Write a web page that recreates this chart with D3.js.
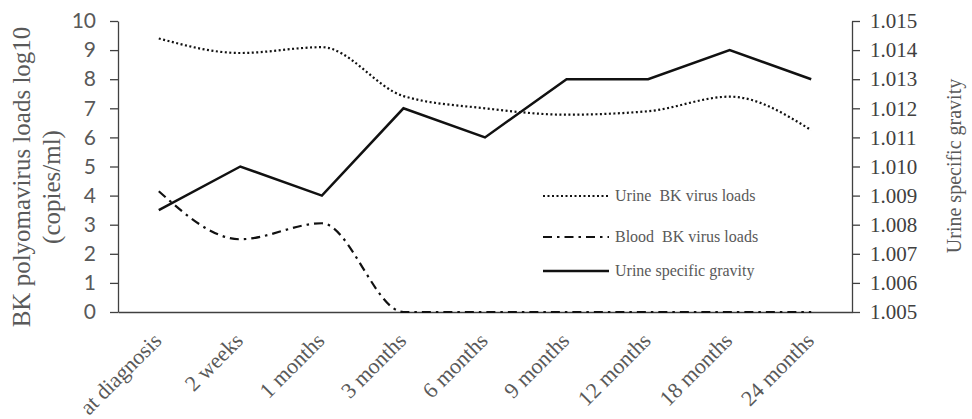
<!DOCTYPE html>
<html>
<head>
<meta charset="utf-8">
<script src="https://cdn.jsdelivr.net/npm/d3@7"></script>
<style>
  body { margin: 0; background: #fff; }
  svg { display: block; }
</style>
</head>
<body>
<div id="chart"></div>
<script>
// Data
const timepoints = ["at diagnosis", "2 weeks", "1 months", "3 months", "6 months",
                    "9 months", "12 months", "18 months", "24 months"];
const urineLoads = [9.4, 8.9, 9.1, 7.42, 7.0, 6.78, 6.9, 7.4, 6.25];
const bloodLoads = [4.15, 2.5, 3.05, 0, 0, 0, 0, 0, 0];
const gravity    = [1.0085, 1.010, 1.009, 1.012, 1.011, 1.013, 1.013, 1.014, 1.013];
const leftTicks  = d3.range(0, 11);
const rightTicks = [1.005, 1.006, 1.007, 1.008, 1.009, 1.010, 1.011, 1.012, 1.013, 1.014, 1.015];

const W = 972, H = 419;
const margin = { top: 21, right: 120, bottom: 107, left: 118 };

const svg = d3.select("#chart").append("svg")
  .attr("width", W)
  .attr("height", H);

const textGray = "#595959";
const serif = "'Liberation Serif', 'DejaVu Serif', serif";

// Scales
const x = d3.scaleBand()
  .domain(timepoints)
  .range([margin.left, W - margin.right])
  .padding(0);

const yL = d3.scaleLinear()
  .domain([0, 10])
  .range([H - margin.bottom, margin.top]);

const yR = d3.scaleLinear()
  .domain([1.005, 1.015])
  .range([H - margin.bottom, margin.top]);

const cx = d => x(d) + x.bandwidth() / 2;

// Left axis
const gL = svg.append("g")
  .attr("transform", `translate(${margin.left},0)`)
  .call(d3.axisLeft(yL).tickValues(leftTicks).tickSize(8).tickSizeOuter(0).tickPadding(14));
gL.select(".domain").attr("stroke", "#404040").attr("stroke-width", 1.3);
gL.selectAll(".tick line").attr("stroke", "#404040").attr("stroke-width", 1.3);
gL.selectAll(".tick text")
  .attr("fill", textGray)
  .style("font-family", "Lato, 'Open Sans', sans-serif")
  .style("font-size", "21px");

// Right axis
const gR = svg.append("g")
  .attr("transform", `translate(${W - margin.right},0)`)
  .call(d3.axisRight(yR).tickValues(rightTicks).tickSize(8).tickSizeOuter(0).tickPadding(10)
    .tickFormat(d3.format(".3f")));
gR.select(".domain").attr("stroke", "#404040").attr("stroke-width", 1.3);
gR.selectAll(".tick line").attr("stroke", "#404040").attr("stroke-width", 1.3);
gR.selectAll(".tick text")
  .attr("fill", "#404040")
  .style("font-family", serif)
  .style("font-size", "21px");

// Bottom axis
const gB = svg.append("g")
  .attr("transform", `translate(0,${H - margin.bottom})`)
  .call(d3.axisBottom(x).tickSize(0).tickSizeOuter(0));
gB.select(".domain").attr("stroke", "#404040").attr("stroke-width", 1.3);
gB.selectAll(".tick text")
  .attr("x", 0).attr("y", 0).attr("dy", 0)
  .attr("transform", "translate(4,30) rotate(-45)")
  .style("text-anchor", "end")
  .attr("fill", textGray)
  .style("font-family", serif)
  .style("font-size", "22px");

// Axis titles
svg.append("text")
  .attr("transform", "translate(30,177) rotate(-90)")
  .attr("text-anchor", "middle")
  .attr("fill", textGray)
  .style("font-family", serif)
  .style("font-size", "25px")
  .text("BK polyomavirus loads log10");

svg.append("text")
  .attr("transform", "translate(60,187) rotate(-90)")
  .attr("text-anchor", "middle")
  .attr("fill", textGray)
  .style("font-family", serif)
  .style("font-size", "25px")
  .text("(copies/ml)");

svg.append("text")
  .attr("transform", "translate(961,166) rotate(-90)")
  .attr("text-anchor", "middle")
  .attr("fill", textGray)
  .style("font-family", serif)
  .style("font-size", "20px")
  .text("Urine specific gravity");

// Lines
const series = [
  { name: "Urine  BK virus loads", values: urineLoads, y: yL, dash: "2,2.5", width: 2.2, curve: d3.curveMonotoneX },
  { name: "Blood  BK virus loads", values: bloodLoads, y: yL, dash: "9,5,2.5,5", width: 2.2, curve: d3.curveMonotoneX },
  { name: "Urine specific gravity", values: gravity, y: yR, dash: null, width: 2.5, curve: d3.curveLinear }
];

series.forEach(s => {
  const line = d3.line()
    .x((d, i) => cx(timepoints[i]))
    .y(d => s.y(d))
    .curve(s.curve);
  svg.append("path")
    .datum(s.values)
    .attr("fill", "none")
    .attr("stroke", "#111")
    .attr("stroke-width", s.width)
    .attr("stroke-dasharray", s.dash)
    .attr("d", line);
});

// Legend
const legendY = [196, 237, 271];
const legend = svg.append("g");
series.forEach((s, i) => {
  legend.append("line")
    .attr("x1", 543).attr("x2", 609)
    .attr("y1", legendY[i]).attr("y2", legendY[i])
    .attr("stroke", "#111")
    .attr("stroke-width", s.width)
    .attr("stroke-dasharray", s.dash);
  legend.append("text")
    .attr("x", 615)
    .attr("y", legendY[i] + 5)
    .attr("fill", textGray)
    .style("font-family", serif)
    .style("font-size", "16px")
    .style("white-space", "pre")
    .text(s.name);
});
</script>
</body>
</html>
